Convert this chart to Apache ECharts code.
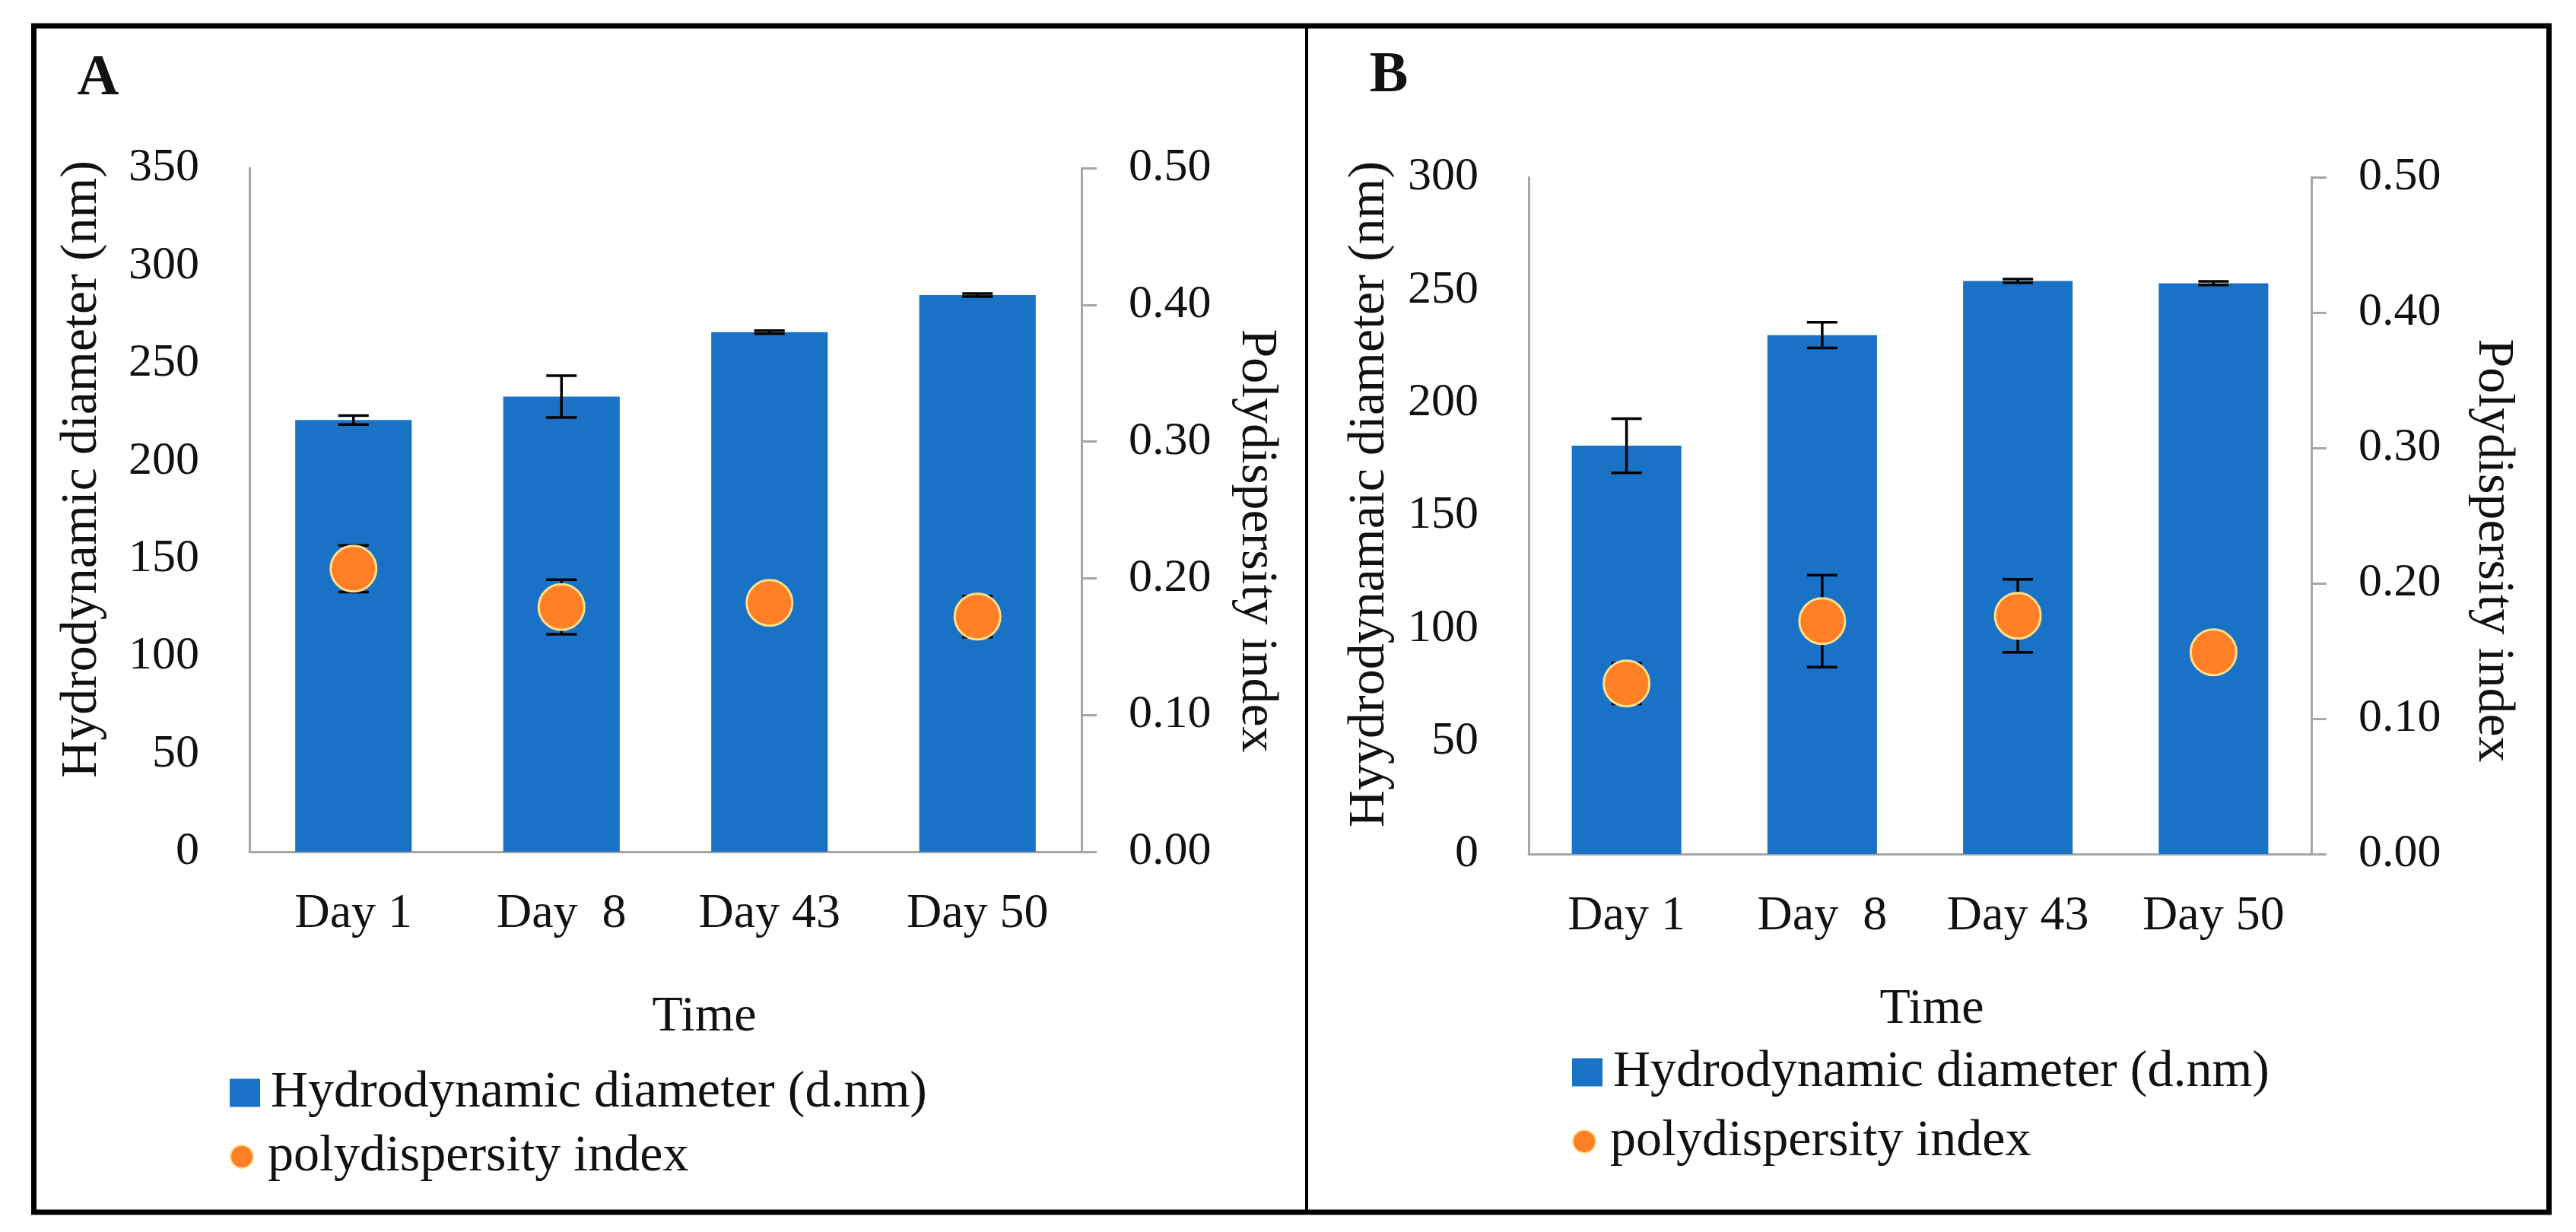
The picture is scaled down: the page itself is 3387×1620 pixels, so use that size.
<!DOCTYPE html>
<html><head><meta charset="utf-8">
<script src="https://cdn.jsdelivr.net/npm/echarts@6/dist/echarts.min.js"></script>
<style>html,body{margin:0;padding:0;background:#fff}#c{width:3387px;height:1620px}</style>
</head><body><div id="c"></div>
<script>
// ---------- data ----------
const categoriesA = ['Day 1', 'Day  8', 'Day 43', 'Day 50'];
const categoriesB = ['Day 1', 'Day  8', 'Day 43', 'Day 50'];
const diameterA = [221, 233, 266, 285];
const diameterErrA = [2.3, 10.7, 0.8, 0.8];
const pdiA = [0.207, 0.179, 0.182, 0.172];
const pdiErrA = [0.017, 0.020, 0.004, 0.015];
const diameterB = [181, 230, 254, 253];
const diameterErrB = [12, 5.7, 0.8, 0.8];
const pdiB = [0.126, 0.172, 0.176, 0.149];
const pdiErrB = [0.015, 0.034, 0.027, 0.004];
const diamTicksA = [0, 50, 100, 150, 200, 250, 300, 350];
const diamTicksB = [0, 50, 100, 150, 200, 250, 300];
const pdiTicks = ['0.00', '0.10', '0.20', '0.30', '0.40', '0.50'];
const barName = 'Hydrodynamic diameter (d.nm)';
const pdiName = 'polydispersity index';

// ---------- style ----------
const FONT = 'Liberation Serif';
const BLUE = '#1A72C7';
const ORANGE = '#FF7F27';
const AXIS = '#A6A6A6';
const TXT = '#111';

function errSeries(vals, errs, xi, yi, z) {
  return {
    type: 'custom', xAxisIndex: xi, yAxisIndex: yi, z: z, silent: true,
    data: vals.map((v, i) => [i, v - errs[i], v + errs[i]]),
    renderItem: function (params, api) {
      const lo = api.coord([api.value(0), api.value(1)]);
      const hi = api.coord([api.value(0), api.value(2)]);
      const hw = 20;
      const st = { stroke: '#000', lineWidth: 3.5 };
      return { type: 'group', children: [
        { type: 'line', shape: { x1: hi[0], y1: hi[1], x2: lo[0], y2: lo[1] }, style: st },
        { type: 'line', shape: { x1: hi[0] - hw, y1: hi[1], x2: hi[0] + hw, y2: hi[1] }, style: st },
        { type: 'line', shape: { x1: lo[0] - hw, y1: lo[1], x2: lo[0] + hw, y2: lo[1] }, style: st }
      ]};
    }
  };
}

function xAxis(cats, gi) {
  return {
    type: 'category', gridIndex: gi, data: cats, boundaryGap: true,
    axisLine: { show: true, lineStyle: { color: AXIS, width: 3 } },
    axisTick: { show: false }, splitLine: { show: false },
    axisLabel: { margin: 50, fontSize: 64, fontFamily: FONT, color: TXT, interval: 0 }
  };
}
function yLeft(ticks, gi) {
  return {
    type: 'value', gridIndex: gi, position: 'left',
    min: ticks[0], max: ticks[ticks.length - 1], interval: ticks[1] - ticks[0],
    axisLine: { show: true, lineStyle: { color: AXIS, width: 3 } },
    axisTick: { show: false }, splitLine: { show: false },
    axisLabel: { margin: 66, fontSize: 62, fontFamily: FONT, color: TXT }
  };
}
function yRight(gi) {
  return {
    type: 'value', gridIndex: gi, position: 'right',
    min: parseFloat(pdiTicks[0]), max: parseFloat(pdiTicks[pdiTicks.length - 1]),
    interval: parseFloat(pdiTicks[1]) - parseFloat(pdiTicks[0]),
    axisLine: { show: true, lineStyle: { color: AXIS, width: 3 } },
    axisTick: { show: true, length: 20, lineStyle: { color: AXIS, width: 3 } },
    splitLine: { show: false },
    axisLabel: { margin: 62, fontSize: 62, fontFamily: FONT, color: TXT,
      formatter: v => pdiTicks[Math.round(v * 10)] }
  };
}
function legend(name, left, top, w, h, icon) {
  return {
    data: [{ name: name, icon: icon }], left: left, top: top, padding: 0,
    itemWidth: w, itemHeight: h, selectedMode: false,
    textStyle: { fontSize: 68, fontFamily: FONT, color: TXT, padding: [0, 0, 0, 9] }
  };
}
function gtext(txt, x, y, size, rot, bold) {
  return { type: 'text', x: x, y: y, rotation: rot || 0, z: 10,
    style: { text: txt, fontSize: size, fontFamily: FONT, fontWeight: bold ? 'bold' : 'normal',
      fill: TXT, align: 'center', verticalAlign: 'middle' } };
}

const chart = echarts.init(document.getElementById('c'), null, { renderer: 'canvas' });
chart.setOption({
  backgroundColor: '#fff',
  animation: false,
  textStyle: { fontFamily: FONT },
  grid: [
    { left: 328, top: 221, width: 1094, height: 899, containLabel: false, outerBoundsMode: 'none' },
    { left: 2010, top: 233, width: 1029, height: 890, containLabel: false, outerBoundsMode: 'none' }
  ],
  xAxis: [xAxis(categoriesA, 0), xAxis(categoriesB, 1)],
  yAxis: [yLeft(diamTicksA, 0), yRight(0), yLeft(diamTicksB, 1), yRight(1)],
  legend: [
    legend(barName, 302, 1403, 40, 37, 'rect'),
    legend(pdiName, 302, 1487, 40, 30, 'circle'),
    legend(barName, 2067, 1376, 40, 37, 'rect'),
    legend(pdiName, 2067, 1467, 40, 30, 'circle')
  ],
  series: [
    { name: barName, type: 'bar', xAxisIndex: 0, yAxisIndex: 0, data: diameterA, barWidth: '56%', z: 2,
      itemStyle: { color: BLUE } },
    errSeries(diameterA, diameterErrA, 0, 0, 3),
    errSeries(pdiA, pdiErrA, 0, 1, 4),
    { name: pdiName, type: 'scatter', xAxisIndex: 0, yAxisIndex: 1, data: pdiA, symbolSize: 60, z: 5,
      itemStyle: { color: ORANGE, borderColor: '#FFE08A', borderWidth: 3, opacity: 1 } },
    { name: barName, type: 'bar', xAxisIndex: 1, yAxisIndex: 2, data: diameterB, barWidth: '56%', z: 2,
      itemStyle: { color: BLUE } },
    errSeries(diameterB, diameterErrB, 1, 2, 3),
    errSeries(pdiB, pdiErrB, 1, 3, 4),
    { name: pdiName, type: 'scatter', xAxisIndex: 1, yAxisIndex: 3, data: pdiB, symbolSize: 60, z: 5,
      itemStyle: { color: ORANGE, borderColor: '#FFE08A', borderWidth: 3, opacity: 1 } }
  ],
  graphic: [
    { type: 'rect', shape: { x: 44.5, y: 34, width: 3307, height: 1560 }, z: 20,
      style: { fill: 'none', stroke: '#000', lineWidth: 7 } },
    { type: 'line', shape: { x1: 1718, y1: 34, x2: 1718, y2: 1594 }, z: 20,
      style: { stroke: '#000', lineWidth: 4 } },
    gtext('A', 129, 104, 76, 0, true),
    gtext('B', 1826, 100, 76, 0, true),
    gtext('Hydrodynamic diameter (nm)', 108, 617, 68, Math.PI / 2),
    gtext('Polydispersity index', 1652, 711, 68, -Math.PI / 2),
    gtext('Time', 926, 1338, 66),
    gtext('Hyydrodynamaic diameter (nm)', 1801, 650, 68, Math.PI / 2),
    gtext('Polydispersity index', 3278, 724, 68, -Math.PI / 2),
    gtext('Time', 2540, 1328, 66)
  ]
});
</script></body></html>
